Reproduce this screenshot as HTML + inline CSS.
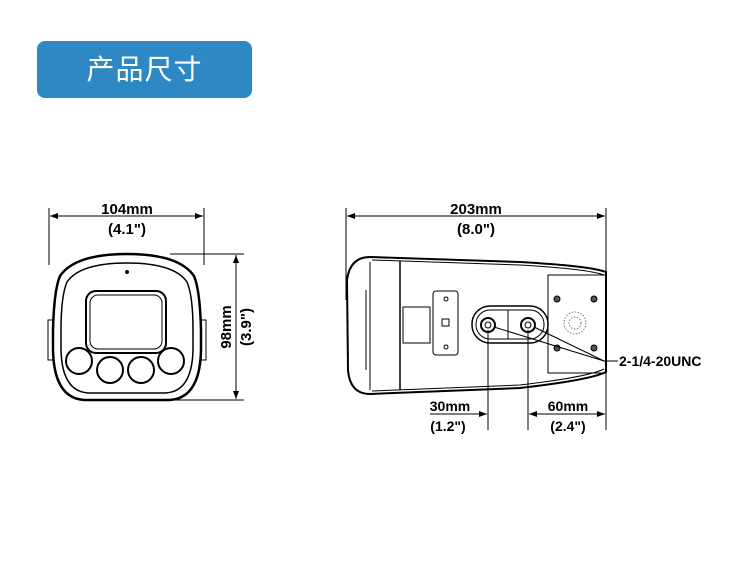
<!DOCTYPE html>
<html><head><meta charset="utf-8"><style>
body{margin:0;width:750px;height:567px;background:#fff;overflow:hidden;position:relative;font-family:"Liberation Sans","Noto Sans CJK SC",sans-serif}
.btn{position:absolute;left:37px;top:41px;width:215px;height:57px;background:#2e88c4;border-radius:8px;color:#fff;font-size:28px;text-align:center;line-height:57px;letter-spacing:1px}
svg{position:absolute;left:0;top:0}
text{font-family:"Liberation Sans",sans-serif;font-weight:bold;fill:#000}
</style></head><body>
<div class="btn">产品尺寸</div>
<svg width="750" height="567" viewBox="0 0 750 567" fill="none" stroke="#000" stroke-width="1">
<defs><marker id="a" markerWidth="8" markerHeight="6" refX="8" refY="3" orient="auto-start-reverse"><path d="M0,0L8,3L0,6z" fill="#000" stroke="none"/></marker></defs>
<!-- front dims -->
<line x1="49" y1="208" x2="49" y2="265"/><line x1="204" y1="208" x2="204" y2="265"/>
<line x1="50" y1="216" x2="203" y2="216" marker-start="url(#a)" marker-end="url(#a)"/>
<text x="127" y="214" font-size="15" text-anchor="middle" stroke="none">104mm</text>
<text x="127" y="234" font-size="15" text-anchor="middle" stroke="none">(4.1")</text>
<line x1="170" y1="254" x2="244" y2="254"/><line x1="110" y1="400" x2="244" y2="400"/>
<line x1="236" y1="255" x2="236" y2="399" marker-start="url(#a)" marker-end="url(#a)"/>
<text transform="translate(231,327) rotate(-90)" font-size="15" text-anchor="middle" stroke="none">98mm</text>
<text transform="translate(251,327) rotate(-90)" font-size="15" text-anchor="middle" stroke="none">(3.9")</text>
<!-- front body -->
<path d="M60,276 Q75,254 127,254 Q179,254 194,276 Q200,290 201,330 L201,350 Q200,398 170,400 L84,400 Q54,398 53,350 L53,330 Q54,290 60,276z" stroke-width="2.5"/>
<path d="M67,282 Q80,263 127,263 Q174,263 187,282 Q193,296 193,330 L193,350 Q192,392 165,393 L89,393 Q62,392 61,350 L61,330 Q61,296 67,282z" stroke-width="1.5"/>
<rect x="48" y="320" width="5" height="40"/><rect x="201" y="320" width="5" height="40"/>
<circle cx="127" cy="272" r="1.5" fill="#000"/>
<rect x="86" y="291" width="80" height="62" rx="10" stroke-width="2"/>
<rect x="90" y="295" width="72" height="54" rx="8"/>
<circle cx="79" cy="361" r="13" stroke-width="2"/><circle cx="110" cy="370" r="13" stroke-width="2"/>
<circle cx="141" cy="370" r="13" stroke-width="2"/><circle cx="171" cy="361" r="13" stroke-width="2"/>
<!-- side dims -->
<line x1="346" y1="208" x2="346" y2="300"/><line x1="606" y1="208" x2="606" y2="280"/>
<line x1="347" y1="216" x2="605" y2="216" marker-start="url(#a)" marker-end="url(#a)"/>
<text x="476" y="214" font-size="15" text-anchor="middle" stroke="none">203mm</text>
<text x="476" y="234" font-size="15" text-anchor="middle" stroke="none">(8.0")</text>
<!-- side body -->
<path d="M370,257 L520,262 Q590,266 606,272 L606,372 Q590,380 520,388 L370,394 Q350,394 348,370 L347,280 Q350,257 370,257z" stroke-width="2"/>
<path d="M372,260 L520,265 Q588,269 604,275 M604,369 Q588,377 520,385 L372,391"/>
<line x1="370" y1="262" x2="370" y2="390"/><line x1="400" y1="261" x2="400" y2="390" stroke-width="1.5"/>
<line x1="366" y1="290" x2="366" y2="370"/>
<rect x="403" y="307" width="27" height="36"/>
<rect x="433" y="291" width="25" height="64" rx="3"/>
<circle cx="446" cy="299" r="2"/><circle cx="446" cy="347" r="2"/><rect x="442" y="319" width="7" height="7"/>
<rect x="472" y="306" width="76" height="37" rx="18" stroke-width="1.5"/>
<rect x="476" y="310" width="68" height="29" rx="14"/>
<line x1="508" y1="310" x2="508" y2="339"/>
<circle cx="488" cy="325" r="7" stroke-width="2"/><circle cx="488" cy="325" r="3"/>
<circle cx="528" cy="325" r="7" stroke-width="2"/><circle cx="528" cy="325" r="3"/>
<rect x="548" y="275" width="58" height="98"/>
<circle cx="557" cy="299" r="3" fill="#555"/><circle cx="594" cy="299" r="3" fill="#555"/>
<circle cx="557" cy="348" r="3" fill="#555"/><circle cx="594" cy="348" r="3" fill="#555"/>
<circle cx="575" cy="323" r="11" stroke="#777" stroke-dasharray="1.5 1.5"/><circle cx="575" cy="323" r="6" stroke="#777" stroke-dasharray="1.5 1.5"/>
<line x1="494" y1="327" x2="604" y2="361"/><line x1="534" y1="327" x2="604" y2="361"/>
<line x1="604" y1="361" x2="618" y2="361"/>
<text x="619" y="366" font-size="14" stroke="none">2-1/4-20UNC</text>
<line x1="488" y1="330" x2="488" y2="430"/><line x1="528" y1="330" x2="528" y2="430"/>
<line x1="606" y1="372" x2="606" y2="430"/>
<line x1="430" y1="414" x2="487" y2="414" marker-end="url(#a)"/>
<line x1="529" y1="414" x2="605" y2="414" marker-start="url(#a)" marker-end="url(#a)"/>
<text x="450" y="411" font-size="14" text-anchor="middle" stroke="none">30mm</text>
<text x="448" y="431" font-size="14" text-anchor="middle" stroke="none">(1.2")</text>
<text x="568" y="411" font-size="14" text-anchor="middle" stroke="none">60mm</text>
<text x="568" y="431" font-size="14" text-anchor="middle" stroke="none">(2.4")</text>
</svg>
</body></html>
